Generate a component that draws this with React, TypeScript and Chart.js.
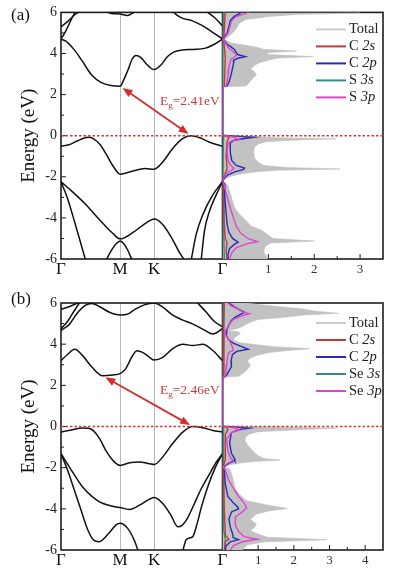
import React, { useEffect, useRef } from 'react';
import { Chart, registerables } from 'chart.js';

Chart.register(...registerables);

type P = [number, number];
const SERIF = '"Liberation Serif", "Times New Roman", serif';

// ---------- k path ----------
const kPoints = [0, 0.366, 0.577, 1];
const kLabels = ['Γ', 'M', 'K', 'Γ'];

// ---------- (a) bands [k, E eV] ----------
const aCB1: P[] = [[0,4.7],[0.03,4.6],[0.08,4.2],[0.13,3.65],[0.19,2.95],[0.25,2.58],[0.31,2.44],[0.366,2.41],[0.39,2.75],[0.42,3.3],[0.44,3.72],[0.465,3.9],[0.495,3.8],[0.53,3.48],[0.577,3.22],[0.62,3.45],[0.66,3.85],[0.70,4.08],[0.75,4.17],[0.82,4.2],[0.89,4.25],[0.95,4.45],[1,4.7]];
const aCB2: P[] = [[0.69,6.05],[0.72,5.85],[0.75,5.72],[0.81,5.6],[0.87,5.38],[0.93,5.08],[1,4.7]];
const aCB3: P[] = [[0,4.7],[0.03,5.1],[0.06,5.6],[0.09,6.05]];
const aCB4: P[] = [[0,5.3],[0.04,5.55],[0.08,5.85],[0.115,6.05]];
const aCB5: P[] = [[0.27,6.05],[0.31,5.95],[0.366,5.92],[0.41,5.85],[0.44,5.95],[0.46,6.05]];
const aCB6: P[] = [[0.9,6.05],[0.95,5.75],[1,5.35]];
const aVB1: P[] = [[0,-0.51],[0.05,-0.44],[0.1,-0.26],[0.14,-0.12],[0.17,-0.08],[0.2,-0.14],[0.24,-0.42],[0.28,-0.9],[0.32,-1.45],[0.366,-1.87],[0.44,-1.73],[0.52,-1.6],[0.577,-1.63],[0.63,-1.28],[0.69,-0.64],[0.75,-0.16],[0.806,0],[0.86,-0.1],[0.92,-0.32],[1,-0.51]];
const aVB2: P[] = [[0,-2.24],[0.07,-2.72],[0.155,-3.36],[0.24,-4.1],[0.32,-4.75],[0.366,-5.02],[0.444,-4.72],[0.527,-4.24],[0.577,-4.05],[0.63,-4.32],[0.69,-5.04],[0.733,-5.68],[0.765,-6.05]];
const aVB3: P[] = [[0,-2.24],[0.04,-3.04],[0.083,-4.16],[0.124,-5.28],[0.152,-6.05]];
const aVB4: P[] = [[0.806,-6.05],[0.837,-4.8],[0.878,-3.84],[0.94,-2.88],[1,-2.24]];
const aVB5: P[] = [[0.868,-6.05],[0.888,-4.64],[0.919,-3.68],[0.961,-2.88],[1,-2.24]];
const aVB6: P[] = [[0.28,-6.05],[0.31,-5.6],[0.34,-5.27],[0.366,-5.12],[0.39,-5.27],[0.415,-5.6],[0.44,-6.05]];

// ---------- (a) PDOS [E eV, states/eV] ----------
const aTotal: P[] = [[6.05,2.9],[5.97,3.0],[5.9,1.6],[5.8,1.0],[5.65,0.5],[5.45,0.36],[5.2,0.3],[4.95,0.2],[4.78,0.1],[4.7,0.04],[4.62,0.1],[4.5,0.2],[4.4,0.5],[4.3,0.75],[4.2,0.9],[4.12,1.62],[4.05,1.0],[3.95,0.97],[3.85,1.98],[3.78,1.2],[3.68,1.02],[3.55,0.8],[3.4,0.68],[3.25,0.62],[3.1,0.7],[2.95,0.74],[2.8,0.66],[2.65,0.6],[2.5,0.55],[2.42,0.5],[2.38,0],[0.02,0],[-0.03,0.6],[-0.1,1.2],[-0.15,2.48],[-0.22,1.5],[-0.3,0.95],[-0.4,0.78],[-0.55,0.7],[-0.8,0.68],[-1.1,0.7],[-1.3,0.78],[-1.45,0.9],[-1.55,1.4],[-1.62,2.56],[-1.68,1.2],[-1.75,0.75],[-1.85,0.4],[-1.95,0.22],[-2.05,0.1],[-2.15,0.02],[-2.22,0],[-2.3,0.08],[-2.45,0.12],[-2.8,0.17],[-3.2,0.22],[-3.5,0.26],[-3.8,0.36],[-4.1,0.5],[-4.4,0.62],[-4.6,0.85],[-4.85,1.0],[-5.0,1.1],[-5.13,2.0],[-5.22,1.05],[-5.4,0.93],[-5.65,0.9],[-5.85,0.95],[-6.05,1.0]];
const aC2s: P[] = [[6.05,0.06],[4.75,0.03],[4.7,0],[4.6,0.03],[3.8,0.06],[2.4,0.04],[2.38,0],[0.02,0],[-0.02,0.1],[-0.1,0.14],[-0.3,0.1],[-1.0,0.08],[-1.6,0.1],[-1.9,0.05],[-2.22,0],[-2.4,0.02],[-4.0,0.03],[-5.0,0.06],[-5.2,0.1],[-5.6,0.08],[-6.05,0.1]];
const aC2p: P[] = [[6.05,0.42],[5.95,0.38],[5.8,0.25],[5.6,0.17],[5.3,0.14],[5.0,0.1],[4.78,0.04],[4.7,0.01],[4.6,0.05],[4.45,0.1],[4.3,0.2],[4.2,0.26],[4.05,0.3],[3.95,0.33],[3.85,0.5],[3.78,0.35],[3.68,0.25],[3.5,0.24],[3.2,0.21],[2.9,0.18],[2.6,0.14],[2.42,0.1],[2.38,0],[0.02,0],[-0.02,0.3],[-0.08,0.68],[-0.15,0.45],[-0.22,0.25],[-0.35,0.17],[-0.8,0.17],[-1.2,0.2],[-1.45,0.3],[-1.58,0.48],[-1.65,0.45],[-1.75,0.28],[-1.9,0.12],[-2.05,0.05],[-2.22,0],[-2.35,0.04],[-3.0,0.05],[-3.8,0.08],[-4.3,0.1],[-4.7,0.14],[-5.0,0.22],[-5.18,0.34],[-5.3,0.25],[-5.5,0.15],[-5.8,0.12],[-6.05,0.12]];
const aS3s: P[] = [[6.05,0.03],[4.7,0.01],[2.38,0.01],[2.36,0],[0.02,0],[-0.02,0.02],[-2.2,0.01],[-2.3,0.02],[-5.0,0.03],[-6.05,0.04]];
const aS3p: P[] = [[6.05,0.62],[5.95,0.5],[5.8,0.3],[5.6,0.2],[5.3,0.16],[5.0,0.12],[4.78,0.05],[4.7,0.01],[4.6,0.04],[4.45,0.08],[4.3,0.12],[4.15,0.2],[4.0,0.28],[3.9,0.3],[3.82,0.25],[3.7,0.18],[3.5,0.16],[3.2,0.13],[2.9,0.12],[2.6,0.1],[2.42,0.08],[2.38,0],[0.02,0],[-0.02,0.12],[-0.08,0.25],[-0.17,0.36],[-0.25,0.2],[-0.4,0.12],[-0.8,0.1],[-1.2,0.12],[-1.45,0.18],[-1.58,0.25],[-1.68,0.2],[-1.8,0.1],[-1.95,0.05],[-2.22,0],[-2.35,0.03],[-2.8,0.08],[-3.2,0.13],[-3.6,0.18],[-4.0,0.24],[-4.4,0.3],[-4.75,0.4],[-5.0,0.55],[-5.15,0.76],[-5.25,0.55],[-5.45,0.3],[-5.7,0.2],[-6.05,0.15]];
const aDosTicks = [0, 0.5, 1, 1.5, 2, 2.5, 3, 3.5];
const aLegend: [string, string][] = [['Total', ''], ['C ', '2s'], ['C ', '2p'], ['S ', '3s'], ['S ', '3p']];
const aCBM: P = [0.366, 2.41];
const aVBM: P = [0.806, 0];
const aGap = 2.41;

// ---------- (b) bands ----------
const bCB1: P[] = [[0,3.2],[0.04,3.5],[0.085,3.75],[0.13,3.48],[0.19,2.9],[0.258,2.46],[0.32,2.5],[0.366,2.57],[0.40,2.8],[0.44,3.4],[0.47,3.68],[0.505,3.6],[0.548,3.36],[0.577,3.23],[0.63,3.36],[0.69,3.77],[0.754,4.0],[0.816,3.93],[0.878,4.0],[0.94,3.69],[1,3.2]];
const bCB2: P[] = [[0,4.67],[0.05,4.95],[0.10,5.5],[0.15,5.88],[0.19,5.98],[0.24,5.82],[0.30,5.55],[0.366,5.42],[0.41,5.45],[0.46,5.7],[0.52,5.92],[0.577,6.0],[0.63,5.8],[0.69,5.42],[0.75,5.18],[0.81,5.0],[0.88,4.72],[0.94,4.5],[1,4.75]];
const bCB3: P[] = [[0,4.75],[0.04,5.1],[0.08,5.6],[0.11,5.95],[0.12,6.05]];
const bCB4: P[] = [[0,5.69],[0.05,5.82],[0.09,5.95],[0.115,6.05]];
const bCB5: P[] = [[0.84,6.05],[0.9,5.55],[0.95,5.1],[1,4.85]];
const bVB1: P[] = [[0,-0.27],[0.07,-0.16],[0.13,-0.07],[0.17,-0.08],[0.2,-0.2],[0.24,-0.6],[0.28,-1.2],[0.33,-1.72],[0.366,-1.89],[0.424,-1.76],[0.486,-1.72],[0.548,-1.81],[0.577,-1.85],[0.63,-1.48],[0.69,-0.84],[0.754,-0.27],[0.816,0],[0.878,-0.06],[0.94,-0.19],[1,-0.27]];
const bVB2: P[] = [[0,-1.32],[0.052,-1.97],[0.134,-2.94],[0.238,-3.66],[0.32,-3.87],[0.366,-3.94],[0.424,-4.03],[0.486,-3.82],[0.548,-3.53],[0.577,-3.45],[0.63,-3.74],[0.68,-4.3],[0.723,-4.87],[0.75,-4.8],[0.78,-4.5],[0.82,-3.85],[0.87,-3.0],[0.92,-2.3],[0.96,-1.75],[1,-1.32]];
const bVB3: P[] = [[0.754,-6.05],[0.775,-5.5],[0.816,-5.35],[0.84,-4.8],[0.87,-3.9],[0.91,-2.9],[0.955,-2.0],[1,-1.32]];
const bVB4: P[] = [[0,-1.32],[0.041,-2.13],[0.083,-3.1],[0.124,-4.06],[0.165,-5.0],[0.2,-5.5],[0.235,-5.6],[0.289,-5.25],[0.341,-4.78],[0.366,-4.7],[0.413,-4.95],[0.455,-5.55],[0.478,-6.05]];

// ---------- (b) PDOS ----------
const bTotal: P[] = [[6.05,0.45],[5.95,0.9],[5.85,1.4],[5.72,2.2],[5.6,2.6],[5.5,3.25],[5.42,2.3],[5.32,1.8],[5.2,1.0],[5.05,0.75],[4.9,0.6],[4.75,0.4],[4.66,0.12],[4.6,0.45],[4.5,0.5],[4.35,0.35],[4.2,0.3],[4.08,0.45],[3.98,0.9],[3.88,1.4],[3.78,2.45],[3.7,1.9],[3.6,1.3],[3.45,0.95],[3.3,0.75],[3.15,0.7],[3.0,0.78],[2.85,0.74],[2.7,0.65],[2.55,0.55],[2.44,0.45],[2.4,0],[0.02,0],[-0.02,1.5],[-0.08,3.2],[-0.15,2.2],[-0.25,1.0],[-0.35,0.77],[-0.5,0.65],[-0.7,0.63],[-0.9,0.7],[-1.15,0.83],[-1.4,0.98],[-1.55,1.15],[-1.63,1.62],[-1.7,0.9],[-1.78,0.45],[-1.88,0.15],[-1.98,0.05],[-2.05,0.2],[-2.3,0.25],[-2.6,0.3],[-3.0,0.35],[-3.3,0.48],[-3.6,0.66],[-3.8,1.2],[-3.98,1.81],[-4.1,1.3],[-4.25,0.95],[-4.5,0.78],[-4.75,0.95],[-4.9,0.9],[-5.05,0.78],[-5.2,0.95],[-5.38,1.25],[-5.5,2.93],[-5.6,1.2],[-5.75,0.7],[-5.9,0.6],[-6.05,0.55]];
const bC2s: P[] = [[6.05,0.05],[4.6,0.03],[2.4,0.04],[2.39,0],[0.02,0],[-0.02,0.1],[-0.15,0.15],[-0.4,0.08],[-1.6,0.08],[-1.95,0.02],[-2.1,0.03],[-4.0,0.05],[-5.3,0.08],[-5.48,0.18],[-5.6,0.08],[-6.05,0.06]];
const bC2p: P[] = [[6.05,0.15],[5.85,0.3],[5.65,0.5],[5.55,0.62],[5.45,0.5],[5.3,0.35],[5.15,0.25],[4.9,0.17],[4.7,0.12],[4.6,0.1],[4.4,0.12],[4.2,0.18],[4.05,0.3],[3.9,0.5],[3.75,0.72],[3.65,0.4],[3.5,0.28],[3.2,0.24],[2.9,0.25],[2.7,0.18],[2.5,0.12],[2.42,0.08],[2.4,0],[0.02,0],[-0.02,0.35],[-0.08,0.75],[-0.15,0.45],[-0.3,0.25],[-0.8,0.2],[-1.3,0.25],[-1.55,0.33],[-1.65,0.35],[-1.75,0.22],[-1.9,0.08],[-2.0,0.03],[-2.1,0.05],[-2.8,0.08],[-3.4,0.15],[-3.7,0.3],[-3.9,0.42],[-4.0,0.45],[-4.15,0.25],[-4.5,0.18],[-4.9,0.22],[-5.2,0.28],[-5.4,0.3],[-5.5,0.45],[-5.6,0.22],[-5.8,0.1],[-6.05,0.08]];
const bSe3s: P[] = [[6.05,0.04],[2.4,0.02],[2.39,0],[0.02,0],[-0.02,0.03],[-2.0,0.02],[-5.0,0.04],[-5.5,0.08],[-6.05,0.05]];
const bSe3p: P[] = [[6.05,0.12],[5.85,0.25],[5.7,0.45],[5.55,0.6],[5.48,0.75],[5.38,0.55],[5.2,0.3],[5.0,0.2],[4.75,0.12],[4.6,0.06],[4.4,0.1],[4.1,0.22],[3.85,0.28],[3.7,0.3],[3.6,0.18],[3.4,0.14],[3.0,0.12],[2.7,0.1],[2.45,0.08],[2.4,0],[0.02,0],[-0.02,0.15],[-0.08,0.35],[-0.18,0.48],[-0.3,0.25],[-0.6,0.12],[-1.2,0.15],[-1.5,0.22],[-1.65,0.3],[-1.75,0.18],[-1.9,0.05],[-2.0,0.02],[-2.1,0.08],[-2.6,0.17],[-3.0,0.3],[-3.4,0.45],[-3.7,0.6],[-3.95,0.68],[-4.15,0.55],[-4.4,0.36],[-4.8,0.36],[-5.1,0.45],[-5.35,0.6],[-5.48,0.98],[-5.6,0.55],[-5.8,0.3],[-6.05,0.2]];
const bDosTicks = [0, 0.5, 1, 1.5, 2, 2.5, 3, 3.5, 4, 4.5];
const bLegend: [string, string][] = [['Total', ''], ['C ', '2s'], ['C ', '2p'], ['Se ', '3s'], ['Se ', '3p']];
const bCBM: P = [0.258, 2.46];
const bVBM: P = [0.816, 0];
const bGap = 2.46;

// ---------- styles ----------
const COL_FILL = '#c2c2c2';
const COL_TOTAL_LEG = '#cdcdcd';
const COL_C2S = '#c23b3b';
const COL_C2P = '#2a2ab8';
const COL_X3S = '#2f8c8c';
const COL_X3P = '#de46cf';
const COL_RED = '#d42e2e';

interface PanelCfg {
  bands: P[][];
  total: P[]; c2s: P[]; c2p: P[]; x3s: P[]; x3p: P[];
  dosMax: number; dosTicks: number[];
  legend: [string, string][];
  cbm: P; vbm: P; gap: number;
  egPos: P;
  tag: string; tagY: number;
  padTop: number; padBottom: number;
  legendTop: number;
}

const panelA: PanelCfg = {
  bands: [aCB1, aCB2, aCB3, aCB4, aCB5, aCB6, aVB1, aVB2, aVB3, aVB4, aVB5, aVB6],
  total: aTotal, c2s: aC2s, c2p: aC2p, x3s: aS3s, x3p: aS3p,
  dosMax: 3.5, dosTicks: aDosTicks, legend: aLegend,
  cbm: aCBM, vbm: aVBM, gap: aGap, egPos: [0.613, 1.65],
  tag: '(a)', tagY: 16, padTop: 11, padBottom: 5, legendTop: 17,
};
const panelB: PanelCfg = {
  bands: [bCB1, bCB2, bCB3, bCB4, bCB5, bVB1, bVB2, bVB3, bVB4],
  total: bTotal, c2s: bC2s, c2p: bC2p, x3s: bSe3s, x3p: bSe3p,
  dosMax: 4.5, dosTicks: bDosTicks, legend: bLegend,
  cbm: bCBM, vbm: bVBM, gap: bGap, egPos: [0.613, 1.75],
  tag: '(b)', tagY: 11, padTop: 14, padBottom: 3, legendTop: 20,
};

function decor(cfg: PanelCfg) {
  return {
    id: 'decor',
    beforeDatasetsDraw(chart: any) {
      const { ctx, chartArea: a } = chart;
      const xk = chart.scales.xk, xd = chart.scales.xd, y = chart.scales.y;
      ctx.save();
      ctx.strokeStyle = '#1e1e1e';
      ctx.lineWidth = 1.6;
      ctx.strokeRect(a.left, a.top, a.right - a.left, a.bottom - a.top);
      const xg = xk.getPixelForValue(1);
      ctx.beginPath(); ctx.moveTo(xg, a.top); ctx.lineTo(xg, a.bottom); ctx.stroke();
      ctx.lineWidth = 1;
      ctx.beginPath();
      for (let e = -5; e <= 5; e++) {
        const py = y.getPixelForValue(e);
        const len = e % 2 === 0 ? 5 : 3;
        ctx.moveTo(a.left, py); ctx.lineTo(a.left + len, py);
      }
      for (const t of xd.ticks) {
        if (t.value <= 0 || t.value >= cfg.dosMax) continue;
        const px = xd.getPixelForValue(t.value);
        const len = Number.isInteger(t.value) ? 5 : 3;
        ctx.moveTo(px, a.bottom); ctx.lineTo(px, a.bottom - len);
      }
      ctx.stroke();
      ctx.restore();
    },
    afterDatasetsDraw(chart: any) {
      const { ctx, chartArea: a } = chart;
      const xk = chart.scales.xk, y = chart.scales.y;
      ctx.save();
      // Fermi level
      const y0 = y.getPixelForValue(0);
      ctx.strokeStyle = '#d03a3a'; ctx.lineWidth = 1.5; ctx.setLineDash([2.5, 2]);
      ctx.beginPath(); ctx.moveTo(a.left, y0); ctx.lineTo(a.right, y0); ctx.stroke();
      ctx.setLineDash([]);
      // gap arrow
      const x1 = xk.getPixelForValue(cfg.cbm[0]), y1 = y.getPixelForValue(cfg.cbm[1]);
      const x2 = xk.getPixelForValue(cfg.vbm[0]), y2 = y.getPixelForValue(cfg.vbm[1]);
      const ang = Math.atan2(y2 - y1, x2 - x1);
      const c = Math.cos(ang), s = Math.sin(ang);
      const sh = 3, hl = 10, hw = 4;
      const sx = x1 + sh * c, sy = y1 + sh * s;
      const ex = x2 - sh * c, ey = y2 - sh * s;
      ctx.strokeStyle = COL_RED; ctx.fillStyle = COL_RED; ctx.lineWidth = 1.8;
      ctx.beginPath(); ctx.moveTo(sx + hl * c * 0.8, sy + hl * s * 0.8); ctx.lineTo(ex - hl * c * 0.8, ey - hl * s * 0.8); ctx.stroke();
      const head = (tx: number, ty: number, dir: number) => {
        const bx = tx - dir * hl * c, by = ty - dir * hl * s;
        ctx.beginPath();
        ctx.moveTo(tx, ty);
        ctx.lineTo(bx - hw * s, by + hw * c);
        ctx.lineTo(bx + hw * s, by - hw * c);
        ctx.closePath(); ctx.fill();
      };
      head(ex, ey, 1);
      head(sx, sy, -1);
      // Eg label
      ctx.fillStyle = '#c8403c'; ctx.textBaseline = 'middle'; ctx.textAlign = 'left';
      let tx = xk.getPixelForValue(cfg.egPos[0]);
      const ty = y.getPixelForValue(cfg.egPos[1]);
      ctx.font = `13.5px ${SERIF}`; ctx.fillText('E', tx, ty); tx += ctx.measureText('E').width;
      ctx.font = `9px ${SERIF}`; ctx.fillText('g', tx, ty + 4); tx += ctx.measureText('g').width;
      ctx.font = `13.5px ${SERIF}`; ctx.fillText(`=${cfg.gap.toFixed(2)}eV`, tx, ty);
      // legend
      const cols = [COL_TOTAL_LEG, COL_C2S, COL_C2P, COL_X3S, COL_X3P];
      cfg.legend.forEach(([pre, orb], i) => {
        const ly = a.top + cfg.legendTop + i * 17;
        ctx.strokeStyle = cols[i]; ctx.lineWidth = 2;
        ctx.beginPath(); ctx.moveTo(a.right - 67, ly); ctx.lineTo(a.right - 37, ly); ctx.stroke();
        ctx.fillStyle = '#222'; ctx.font = `14.5px ${SERIF}`; ctx.textBaseline = 'middle';
        ctx.fillText(pre, a.right - 34, ly);
        const w = ctx.measureText(pre).width;
        if (orb) { ctx.font = `italic 14.5px ${SERIF}`; ctx.fillText(orb, a.right - 34 + w, ly); }
      });
      // panel tag and axis title
      ctx.fillStyle = '#111'; ctx.font = `17px ${SERIF}`; ctx.textAlign = 'left'; ctx.textBaseline = 'middle';
      ctx.fillText(cfg.tag, 11, cfg.tagY);
      ctx.translate(29, (a.top + a.bottom) / 2);
      ctx.rotate(-Math.PI / 2);
      ctx.textAlign = 'center'; ctx.font = `19px ${SERIF}`;
      ctx.fillText('Energy (eV)', 0, 0);
      ctx.restore();
    },
  };
}

function buildConfig(cfg: PanelCfg): any {
  const dos = (pts: P[], color: string, order: number, gray = false) => ({
    type: 'line', indexAxis: 'y', xAxisID: 'xd', yAxisID: 'y',
    data: pts.map(([e, v]) => ({ x: v, y: e })),
    borderColor: gray ? '#bdbdbd' : color,
    borderWidth: gray ? 0.6 : 1.4,
    backgroundColor: gray ? COL_FILL : 'rgba(0,0,0,0)',
    fill: gray ? { value: 0 } : false,
    pointRadius: 0, tension: 0, order,
  });
  const bandSets = cfg.bands.map((b) => ({
    type: 'line', xAxisID: 'xk', yAxisID: 'y',
    data: b.map(([k, e]) => ({ x: k, y: e })),
    borderColor: '#111', borderWidth: 1.5, pointRadius: 0, fill: false,
    cubicInterpolationMode: 'monotone', order: 6,
  }));
  return {
    type: 'line',
    data: {
      datasets: [
        dos(cfg.x3p, COL_X3P, 1),
        dos(cfg.c2p, COL_C2P, 2),
        dos(cfg.c2s, COL_C2S, 3),
        dos(cfg.x3s, COL_X3S, 4),
        dos(cfg.total, COL_FILL, 5, true),
        ...bandSets,
      ],
    },
    options: {
      responsive: false, animation: false, events: [],
      layout: { padding: { top: cfg.padTop, bottom: cfg.padBottom, left: 0, right: 12 } },
      plugins: { legend: { display: false }, tooltip: { enabled: false } },
      scales: {
        y: {
          type: 'linear', position: 'left', min: -6, max: 6,
          ticks: { stepSize: 2, font: { family: SERIF, size: 14 }, color: '#222', padding: 4 },
          grid: { display: false, drawTicks: false }, border: { display: false },
          afterFit: (s: any) => { s.width = 61; },
        },
        xk: {
          type: 'linear', position: 'bottom', stack: 'k', stackWeight: 161.5, min: 0, max: 1,
          afterBuildTicks: (s: any) => { s.ticks = kPoints.map((v) => ({ value: v })); },
          ticks: {
            autoSkip: false, maxRotation: 0, minRotation: 0,
            callback: (_v: any, i: number) => kLabels[i] ?? '',
            font: { family: SERIF, size: 17 }, color: '#111', padding: 0,
          },
          grid: {
            drawTicks: false, lineWidth: 1,
            color: (c: any) => (c.index === 1 || c.index === 2 ? '#b8b8b8' : 'rgba(0,0,0,0)'),
          },
          border: { display: false },
          afterFit: (s: any) => { s.height = 24; },
        },
        xd: {
          type: 'linear', position: 'bottom', stack: 'k', stackWeight: 160.5, min: 0, max: cfg.dosMax,
          afterBuildTicks: (s: any) => { s.ticks = cfg.dosTicks.map((v) => ({ value: v })); },
          ticks: {
            autoSkip: false, maxRotation: 0, minRotation: 0,
            callback: (v: any) => (Number.isInteger(v) && v > 0 ? String(v) : ''),
            font: { family: SERIF, size: 13 }, color: '#333', padding: 3,
          },
          grid: { display: false, drawTicks: false }, border: { display: false },
          afterFit: (s: any) => { s.height = 24; },
        },
      },
    },
    plugins: [decor(cfg)],
  };
}

function Panel({ cfg, top, height }: { cfg: PanelCfg; top: number; height: number }) {
  const ref = useRef<HTMLCanvasElement>(null);
  useEffect(() => {
    const chart = new Chart(ref.current as HTMLCanvasElement, buildConfig(cfg));
    return () => chart.destroy();
  }, [cfg]);
  return (
    <canvas
      ref={ref}
      width={395}
      height={height}
      style={{ position: 'absolute', left: 0, top, width: 395, height }}
    />
  );
}

export default function App() {
  return (
    <div style={{ position: 'absolute', left: 0, top: 0, width: 395, height: 577, background: '#fff', overflow: 'hidden' }}>
      <Panel cfg={panelA} top={0} height={288} />
      <Panel cfg={panelB} top={289} height={288} />
    </div>
  );
}
